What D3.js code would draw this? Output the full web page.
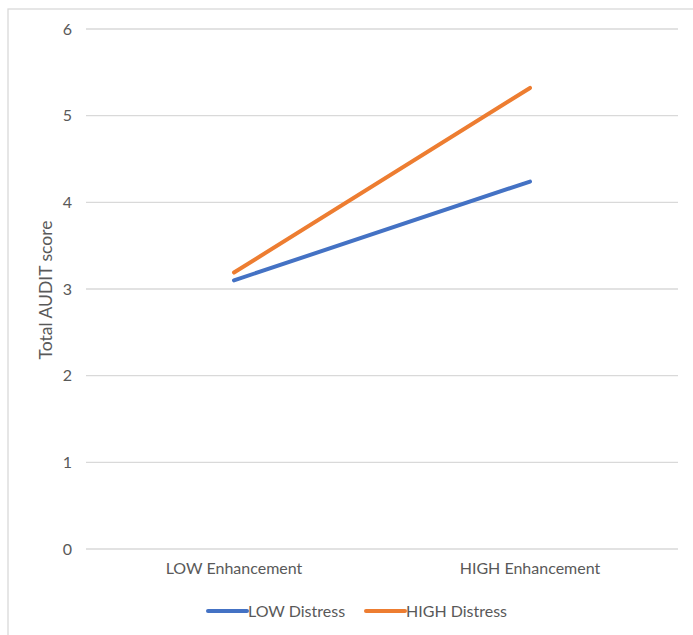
<!DOCTYPE html>
<html>
<head>
<meta charset="utf-8">
<script src="https://cdn.jsdelivr.net/npm/d3@7/dist/d3.min.js"></script>
<style>
  html, body { margin: 0; padding: 0; background: #fff; }
  svg { display: block; }
  text { font-family: Lato, "Open Sans", sans-serif; fill: #595959; }
</style>
</head>
<body>
<div id="chart"></div>
<script>
// Interaction plot: AUDIT score by enhancement level and distress level
const categories = ["LOW Enhancement", "HIGH Enhancement"];
const seriesNames = ["LOW Distress", "HIGH Distress"];
const lowDistress = [3.10, 4.24];
const highDistress = [3.19, 5.32];
const yTicks = [0, 1, 2, 3, 4, 5, 6];
const yTitle = "Total AUDIT score";
const colors = ["#4472C4", "#ED7D31"];

const W = 693, H = 635;
const FONT = "Lato, 'Open Sans', sans-serif";
const svg = d3.select("#chart").append("svg")
  .attr("width", W).attr("height", H);

// chart frame (cropped on right and bottom)
svg.append("rect")
  .attr("x", 8).attr("y", 9)
  .attr("width", W + 10).attr("height", H + 10)
  .attr("fill", "none").attr("stroke", "#d9d9d9").attr("stroke-width", 1.3);

const plot = { left: 86, right: 678, top: 29, bottom: 549 };

const x = d3.scaleBand().domain(categories)
  .range([plot.left, plot.right]).paddingInner(0).paddingOuter(0);
const y = d3.scaleLinear().domain([0, 6]).range([plot.bottom, plot.top]);

// gridlines
svg.append("g").selectAll("line").data(yTicks).join("line")
  .attr("x1", plot.left).attr("x2", plot.right)
  .attr("y1", d => y(d)).attr("y2", d => y(d))
  .attr("stroke", "#d9d9d9").attr("stroke-width", 1.3);

// y axis labels
const yAxis = d3.axisLeft(y).tickValues(yTicks).tickFormat(d3.format("d"))
  .tickSize(0).tickPadding(0);
const gy = svg.append("g").attr("transform", `translate(72,0)`).call(yAxis);
gy.select(".domain").remove();
gy.selectAll("text").attr("font-size", 16).attr("fill", "#595959")
  .style("font-family", FONT);

// x axis labels
const xAxis = d3.axisBottom(x).tickSize(0).tickPadding(0);
const gx = svg.append("g").attr("transform", `translate(0,${plot.bottom + 14})`).call(xAxis);
gx.select(".domain").remove();
gx.selectAll("text").attr("font-size", 16).attr("fill", "#595959")
  .style("font-family", FONT);

// y title
svg.append("text")
  .attr("transform", `translate(46,290) rotate(-90)`)
  .attr("text-anchor", "middle")
  .attr("dy", "0.35em")
  .attr("font-size", 17.5)
  .text(yTitle);

// series lines
const series = [lowDistress, highDistress];
const line = d3.line()
  .x((d, i) => x(categories[i]) + x.bandwidth() / 2)
  .y(d => y(d));
svg.append("g").selectAll("path").data(series).join("path")
  .attr("d", d => line(d))
  .attr("fill", "none")
  .attr("stroke", (d, i) => colors[i])
  .attr("stroke-width", 4)
  .attr("stroke-linecap", "round");

// legend
const legendY = 611;
const legendX = [208, 366];
const lg = svg.append("g").selectAll("g").data(seriesNames).join("g")
  .attr("transform", (d, i) => `translate(${legendX[i]},${legendY})`);
lg.append("line")
  .attr("x1", 0).attr("x2", 39).attr("y1", 0).attr("y2", 0)
  .attr("stroke", (d, i) => colors[i]).attr("stroke-width", 4)
  .attr("stroke-linecap", "round");
lg.append("text")
  .attr("x", 40).attr("y", 0).attr("dy", "0.35em")
  .attr("font-size", 16)
  .text(d => d);
</script>
</body>
</html>
